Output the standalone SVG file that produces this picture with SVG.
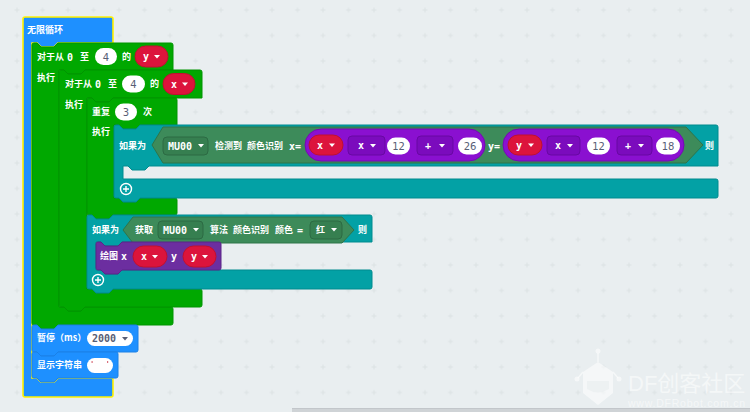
<svg xmlns="http://www.w3.org/2000/svg" width="750" height="412" viewBox="0 0 750 412">
<defs>
<pattern id="grid" x="4.25" y="-2.75" width="25.5" height="25.5" patternUnits="userSpaceOnUse">
<path d="M10.25,12.75 H15.25 M12.75,10.25 V15.25" stroke="#dce2e4" stroke-width="1"/>
</pattern>
<path id="arr" d="M-3,-1.5 H3 L0,2 Z"/>
</defs>
<style>
.t{font-family:"Noto Sans CJK SC","Noto Sans",sans-serif;font-size:9px;font-weight:700;fill:#fff}
.m{font-family:"DejaVu Sans Mono","Liberation Mono",monospace;font-size:10px;font-weight:700;fill:#fff}
.n{font-family:"DejaVu Sans","Noto Sans",sans-serif;font-size:10px;fill:#575e75;text-anchor:middle}
.blue{fill:#1e90ff;stroke:#1a80e6;stroke-width:1}
.sel{stroke:#fff200;stroke-width:1.6}
.green{fill:#00a800;stroke:#009400;stroke-width:1}
.teal{fill:#03a1a5;stroke:#008b8f;stroke-width:1}
.hex{fill:#3d8b5a;stroke:#2f7449;stroke-width:1}
.dd{fill:#367f50;stroke:#2c6a43;stroke-width:1}
.pp{fill:#8a10d0;stroke:#750ab3;stroke-width:1}
.pf{fill:#7b0bbd;stroke:#6808a3;stroke-width:1}
.red{fill:#dc143c;stroke:#c0102f;stroke-width:1}
.wp{fill:#fff}
.draw{fill:#6c2ea0;stroke:#5a2588;stroke-width:1}
.aw{fill:#fff}
.plus{fill:none;stroke:#fff;stroke-width:1.4}
.wm{fill:#fff;fill-opacity:0.55}
</style>
<rect width="750" height="412" fill="#e9eef0"/>
<rect width="750" height="412" fill="url(#grid)"/>

<g id="forever">
<path class="blue sel" d="M23,19 Q23,17 25,17 H111 Q113,17 113,19 V43 H58 L54,47 H41 L37,43 H32 V378 H37 L41,382 H54 L58,378 H111 Q113,378 113,380 V395 Q113,397 111,397 H25 Q23,397 23,395 Z"/>
<text class="t" x="27" y="33">无限循环</text>
</g>

<g id="for-y">
<path class="green" d="M32,45 Q32,43 34,43 H37 L41,47 H54 L58,43 H171 Q173,43 173,45 V70 H85 L81,74 H68 L64,70 H59 V307 H64 L68,311 H81 L85,307 H171 Q173,307 173,309 V323 Q173,325 171,325 H58 L54,329 H41 L37,325 H34 Q32,325 32,323 Z"/>
<text class="t" x="37" y="60">对于从</text>
<text class="m" x="67" y="61">0</text>
<text class="t" x="80" y="60">至</text>
<rect class="wp" x="95" y="48" width="22" height="17" rx="8.5"/>
<text class="n" x="106" y="60.5">4</text>
<text class="t" x="122" y="60">的</text>
<rect class="red" x="135" y="46" width="33" height="21" rx="10.5"/>
<text class="m" x="143" y="60">y</text>
<use href="#arr" x="157" y="56.5" class="aw"/>
<text class="t" x="37" y="81">执行</text>
</g>

<g id="for-x">
<path class="green" d="M59,72 Q59,70 61,70 H64 L68,74 H81 L85,70 H200 Q202,70 202,72 V98 H113 L109,102 H96 L92,98 H87 V289 H92 L96,293 H109 L113,289 H200 Q202,289 202,291 V305 Q202,307 200,307 H85 L81,311 H68 L64,307 H61 Q59,307 59,305 Z"/>
<text class="t" x="65" y="87">对于从</text>
<text class="m" x="95" y="88">0</text>
<text class="t" x="108" y="87">至</text>
<rect class="wp" x="122" y="75.5" width="23" height="17" rx="8.5"/>
<text class="n" x="133.5" y="88">4</text>
<text class="t" x="150" y="87">的</text>
<rect class="red" x="163" y="73.5" width="32" height="21" rx="10.5"/>
<text class="m" x="171" y="87.5">x</text>
<use href="#arr" x="185" y="84" class="aw"/>
<text class="t" x="65" y="108">执行</text>
</g>

<g id="repeat">
<path class="green" d="M87,100 Q87,98 89,98 H92 L96,102 H109 L113,98 H175 Q177,98 177,100 V125 H140 L136,129 H123 L119,125 H114 V198 H119 L123,202 H136 L140,198 H175 Q177,198 177,200 V213 Q177,215 175,215 H113 L109,219 H96 L92,215 H89 Q87,215 87,213 Z"/>
<text class="t" x="92" y="115">重复</text>
<rect class="wp" x="115" y="103.5" width="22" height="17" rx="8.5"/>
<text class="n" x="126" y="116">3</text>
<text class="t" x="143" y="115">次</text>
<text class="t" x="92" y="135">执行</text>
</g>

<g id="if-detect">
<path class="teal" d="M114,127 Q114,125 116,125 H119 L123,129 H136 L140,125 H716 Q718,125 718,127 V166 H149 L145,170 H132 L128,166 H123 V179 H716 Q718,179 718,181 V196 Q718,198 716,198 H140 L136,202 H123 L119,198 H116 Q114,198 114,196 Z"/>
<text class="t" x="119" y="149">如果为</text>
<path class="hex" d="M152,145 L163,127 H686 L703,145 L686,163 H163 Z"/>
<rect class="dd" x="163" y="137" width="45" height="18" rx="4"/>
<text class="m" x="168" y="149.5">MU00</text>
<use href="#arr" x="201" y="145.5" class="aw"/>
<text class="t" x="215" y="149">检测到</text>
<text class="t" x="247" y="149">颜色识别</text>
<text class="m" x="289" y="149.5">x=</text>
<rect class="pp" x="305" y="129" width="180" height="32" rx="16"/>
<rect class="red" x="309" y="135" width="34" height="20" rx="10"/>
<text class="m" x="317" y="148.5">x</text>
<use href="#arr" x="332" y="145" class="aw"/>
<rect class="pf" x="348" y="136" width="37" height="19" rx="4"/>
<text class="m" x="358" y="149">x</text>
<use href="#arr" x="373" y="145.5" class="aw"/>
<rect class="wp" x="387" y="137.5" width="23" height="17" rx="8.5"/>
<text class="n" x="398.5" y="149.5">12</text>
<rect class="pf" x="417" y="136" width="36" height="19" rx="4"/>
<text class="m" x="425" y="149">+</text>
<use href="#arr" x="442" y="145.5" class="aw"/>
<rect class="wp" x="458" y="137.5" width="24" height="17" rx="8.5"/>
<text class="n" x="470" y="149.5">26</text>
<text class="m" x="488" y="149.5">y=</text>
<rect class="pp" x="503" y="129" width="181" height="32" rx="16"/>
<rect class="red" x="508" y="135" width="34" height="20" rx="10"/>
<text class="m" x="516" y="148.5">y</text>
<use href="#arr" x="531" y="145" class="aw"/>
<rect class="pf" x="547" y="136" width="33" height="19" rx="4"/>
<text class="m" x="555" y="149">x</text>
<use href="#arr" x="570" y="145.5" class="aw"/>
<rect class="wp" x="587" y="137.5" width="23" height="17" rx="8.5"/>
<text class="n" x="598.5" y="149.5">12</text>
<rect class="pf" x="617" y="136" width="35" height="19" rx="4"/>
<text class="m" x="625" y="149">+</text>
<use href="#arr" x="641" y="145.5" class="aw"/>
<rect class="wp" x="656" y="137.5" width="24" height="17" rx="8.5"/>
<text class="n" x="668" y="149.5">18</text>
<text class="t" x="705" y="149">则</text>
<circle class="plus" cx="126" cy="189" r="5.5"/>
<path class="plus" d="M123,189 H129 M126,186 V192"/>
</g>

<g id="if-color">
<path class="teal" d="M87,217 Q87,215 89,215 H92 L96,219 H109 L113,215 H370 Q372,215 372,217 V242 H122 L118,246 H105 L101,242 H96 V270 H101 L105,274 H118 L122,270 H370 Q372,270 372,272 V287 Q372,289 370,289 H113 L109,293 H96 L92,289 H89 Q87,289 87,287 Z"/>
<text class="t" x="92" y="233">如果为</text>
<path class="hex" d="M123,230 L133,217 H342 L354,230 L342,243 H133 Z"/>
<text class="t" x="135" y="233">获取</text>
<rect class="dd" x="158" y="221" width="45" height="18" rx="4"/>
<text class="m" x="163" y="233.5">MU00</text>
<use href="#arr" x="196" y="229.5" class="aw"/>
<text class="t" x="210" y="233">算法</text>
<text class="t" x="233" y="233">颜色识别</text>
<text class="t" x="275" y="233">颜色</text>
<text class="m" x="297" y="233.5">=</text>
<rect class="dd" x="310" y="221" width="32" height="18" rx="4"/>
<text class="t" x="316" y="233">红</text>
<use href="#arr" x="334" y="229.5" class="aw"/>
<text class="t" x="358" y="233">则</text>
<circle class="plus" cx="98" cy="280" r="5.5"/>
<path class="plus" d="M95,280 H101 M98,277 V283"/>
</g>

<g id="draw">
<path class="draw" d="M96,244 Q96,242 98,242 H101 L105,246 H118 L122,242 H219 Q221,242 221,244 V268 Q221,270 219,270 H122 L118,274 H105 L101,270 H98 Q96,270 96,268 Z"/>
<text class="t" x="100" y="259">绘图</text>
<text class="m" x="121" y="259.5">x</text>
<rect class="red" x="133" y="246" width="34" height="21" rx="10.5"/>
<text class="m" x="141" y="260">x</text>
<use href="#arr" x="155" y="256.5" class="aw"/>
<text class="m" x="171" y="259.5">y</text>
<rect class="red" x="183" y="246" width="33" height="21" rx="10.5"/>
<text class="m" x="191" y="260">y</text>
<use href="#arr" x="205" y="256.5" class="aw"/>
</g>

<g id="wait">
<path class="blue" d="M32,327 Q32,325 34,325 H37 L41,329 H54 L58,325 H136 Q138,325 138,327 V350 Q138,352 136,352 H58 L54,356 H41 L37,352 H34 Q32,352 32,350 Z"/>
<text class="t" x="37" y="341">暂停（ms）</text>
<rect class="wp" x="87" y="331" width="46" height="15" rx="7.5"/>
<text class="m" x="92" y="342" style="fill:#575e75">2000</text>
<use href="#arr" x="125" y="338.5" style="fill:#575e75"/>
</g>

<g id="show-string">
<path class="blue" d="M32,354 Q32,352 34,352 H37 L41,356 H54 L58,352 H116 Q118,352 118,354 V376 Q118,378 116,378 H58 L54,382 H41 L37,378 H34 Q32,378 32,376 Z"/>
<text class="t" x="37" y="368">显示字符串</text>
<rect class="wp" x="87" y="358" width="26" height="15" rx="7.5"/>
<rect x="91.5" y="361" width="1.2" height="2" fill="#d9707d"/>
<rect x="107" y="361" width="1.2" height="2" fill="#d9707d"/>
</g>

<g id="connectors"></g>

<g id="watermark">
<path class="wm" d="M583,372 L598,362 L613,372 L613,393 L598,405 L583,393 Z"/>
<path d="M587,381 H609 V389 Q598,396 587,389 Z" fill="#e9eef0" fill-opacity="0.7"/>
<path d="M598,362 V353 M583,372 L578,378 M613,372 L618,378" stroke="#fff" stroke-opacity="0.55" stroke-width="1.5"/>
<circle class="wm" cx="598" cy="351" r="2.5"/>
<circle class="wm" cx="577" cy="379" r="2.5"/>
<circle class="wm" cx="619" cy="379" r="2.5"/>
<text x="628" y="391" style="font-family:'Liberation Sans','Noto Sans CJK SC',sans-serif;font-size:22px" class="wm">DF创客社区</text>
<text x="628" y="407" textLength="117" style="font-family:'Liberation Sans',sans-serif;font-size:10.5px" class="wm">www.DFRobot.com.cn</text>
</g>

<rect x="292" y="408" width="458" height="4" fill="#cfd3d6"/>
<rect x="292" y="408" width="458" height="0.8" fill="#bfc4c7"/>
</svg>
